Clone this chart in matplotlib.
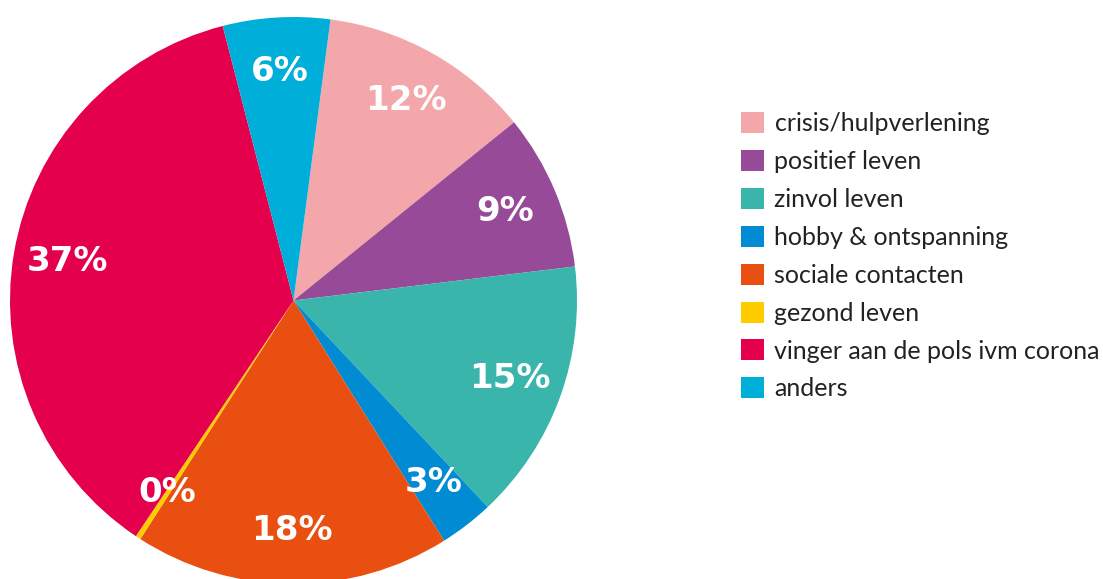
import matplotlib.pyplot as plt

labels = ["crisis/hulpverlening", "positief leven", "zinvol leven", "hobby & ontspanning",
          "sociale contacten", "gezond leven", "vinger aan de pols ivm corona", "anders"]
values = [12.1, 8.9, 14.9, 3.1, 18.0, 0.3, 36.6, 6.1]
colors = ["#F3A7AA", "#974A98", "#3AB5AC", "#008BD2", "#E94F10", "#FFCC00", "#E4004D", "#00AEDA"]

W, H = 1103, 579
fig = plt.figure(figsize=(W / 100, H / 100), dpi=100)
ax = fig.add_axes([0, 0, 1, 1])

wedges, texts, autotexts = ax.pie(
    values, colors=colors, startangle=82.5, counterclock=False,
    center=(293.5, H - 300.5), radius=283.5, pctdistance=0.81,
    autopct=lambda p: f"{round(p)}%",
    textprops=dict(color="white", fontsize=24.5, fontweight="bold", family="DejaVu Sans"),
    wedgeprops=dict(linewidth=0),
)

ax.set_xlim(0, W)
ax.set_ylim(0, H)
ax.set_aspect("equal")
ax.axis("off")

leg = ax.legend(wedges, labels, loc="upper left", bbox_to_anchor=(741 / W, 1 - 112 / H),
                frameon=False, handlelength=0.92, handleheight=0.92,
                handletextpad=0.42, labelspacing=0.59, borderpad=0, borderaxespad=0,
                prop=dict(family="Lato", size=18))
for t in leg.get_texts():
    t.set_color("#222222")

fig.savefig("out.png", dpi=100)
